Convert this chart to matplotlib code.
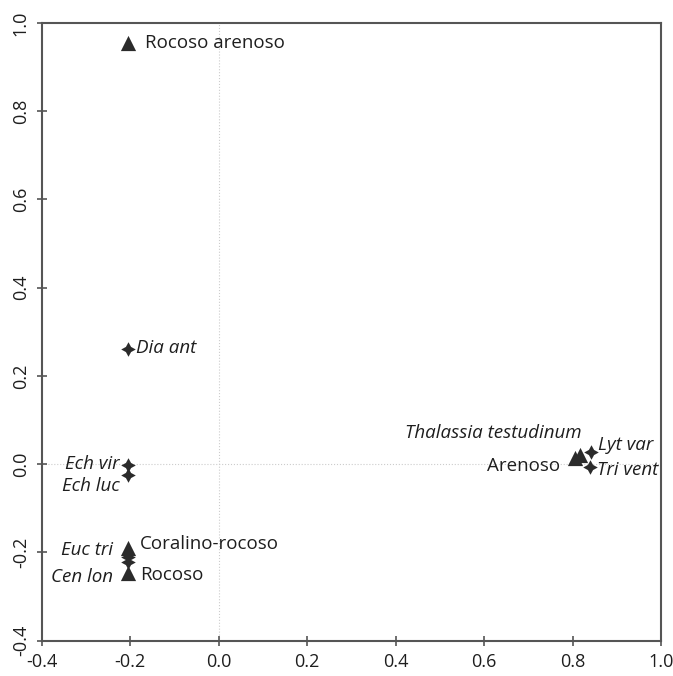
import matplotlib
matplotlib.use("Agg")
import matplotlib.pyplot as plt

# Habitats (triangulos)
habitats = ["Rocoso arenoso", "Coralino-rocoso", "Rocoso", "Thalassia testudinum", "Arenoso"]
hab_x = [-0.205, -0.205, -0.205, 0.818, 0.806]
hab_y = [0.955, -0.19, -0.247, 0.021, 0.014]

# Especies (estrellas)
especies = ["Dia ant", "Ech vir", "Ech luc", "Euc tri", "Cen lon", "Lyt var", "Tri vent"]
esp_x = [-0.205, -0.205, -0.205, -0.205, -0.205, 0.842, 0.84]
esp_y = [0.261, -0.002, -0.025, -0.21, -0.222, 0.028, -0.006]

# desplazamiento de las etiquetas (puntos) y alineacion
hab_off = [(12, 0, "left"), (9, 3, "left"), (9, -1, "left"), (1, 16, "right"), (-11, -6, "right")]
esp_off = [(6, 1, "left"), (-6, 1, "right"), (-6, -8, "right"), (-11, 5, "right"), (-11, -11, "right"), (5, 5, "left"), (5, -2, "left")]

plt.rcParams["font.family"] = ["Open Sans", "DejaVu Sans"]

fig = plt.figure(figsize=(6.73, 6.76), dpi=100)
ax = fig.add_axes([41.6 / 673, 1 - 640.7 / 676, 619.4 / 673, 617.7 / 676])

ax.axvline(0, color="#cccccc", linestyle=":", linewidth=0.8, zorder=0)
ax.axhline(0, color="#cccccc", linestyle=":", linewidth=0.8, zorder=0)

ax.scatter(hab_x, hab_y, marker="^", s=120, color="#2b2b2b", zorder=3, linewidths=0)
ax.scatter(esp_x, esp_y, marker=(4, 1, 0), s=110, color="#2b2b2b", zorder=3, linewidths=0)

for nombre, x, y, (dx, dy, ha) in zip(habitats, hab_x, hab_y, hab_off):
    estilo = "italic" if nombre == "Thalassia testudinum" else "normal"
    ax.annotate(nombre, (x, y), xytext=(dx, dy), textcoords="offset points",
                ha=ha, va="center", fontsize=13.5, style=estilo, color="#1e1e1e")

for nombre, x, y, (dx, dy, ha) in zip(especies, esp_x, esp_y, esp_off):
    ax.annotate(nombre, (x, y), xytext=(dx, dy), textcoords="offset points",
                ha=ha, va="center", fontsize=13.5, style="italic", color="#1e1e1e")

ax.set_xlim(-0.4, 1.0)
ax.set_ylim(-0.4, 1.0)
ticks = [-0.4, -0.2, 0.0, 0.2, 0.4, 0.6, 0.8, 1.0]
ax.set_xticks(ticks)
ax.set_yticks(ticks)
ax.set_xticklabels([f"{t:.1f}" for t in ticks])
ax.set_yticklabels([f"{t:.1f}" for t in ticks], rotation=90, va="center")
ax.tick_params(direction="inout", length=7, width=1.2, color="#555555",
               labelsize=13, labelcolor="#1e1e1e", pad=5)
for s in ax.spines.values():
    s.set_color("#555555")
    s.set_linewidth(1.5)

fig.savefig("out.png", dpi=100)
